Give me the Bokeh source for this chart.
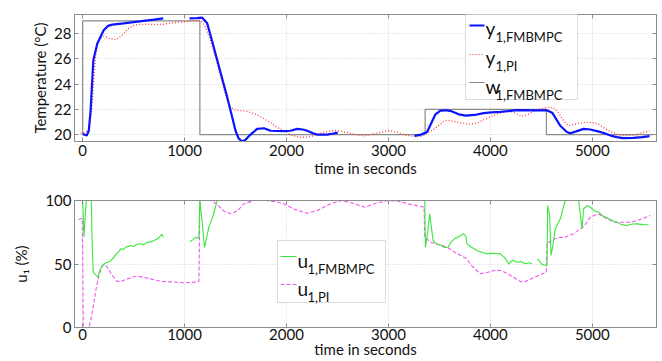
import math
from bokeh.plotting import figure
from bokeh.layouts import column
from bokeh.models import (Range1d, LinearAxis, FixedTicker, Label, BoxAnnotation, Arrow,
                          CustomLabelingPolicy)
from bokeh.embed import file_html
from bokeh.resources import INLINE

nan = float("nan")

# ---------------- data ----------------
x_ticks = [0, 1000, 2000, 3000, 4000, 5000]
temp_ticks = [20, 22, 24, 26, 28]
u_ticks = [0, 50, 100]

t_y_mpc = [0, 40, 60, 78, 105, 144, 206, 250, 291, 400, 500, 600, 700, 791, nan,
           1049, 1120, 1173, 1222, 1270, 1320, 1370, 1418, 1460, 1500, 1530, 1565, 1600, 1647,
           1712, 1780, 1843, 1974, 2039, 2105, 2160, 2203, 2260, 2301, 2399, 2460, 2503, nan,
           3255, 3320, 3379, 3420, 3461, 3510, 3560, 3618, 3690, 3760, 3846, 3934, 4010, 4100,
           4173, 4261, 4402, 4555, 4610, 4686, 4750, 4784, 4843, 4915, 4980, 5056, 5120, 5186,
           5242, 5300, 5405, 5490, 5562]
y_mpc = [20.05, 19.92, 20.3, 21.9, 25.9, 27.2, 28.25, 28.6, 28.7, 28.8, 28.9, 29.0, 29.1, 29.2, nan,
         29.2, 29.22, 29.25, 28.8, 27.4, 25.9, 24.4, 22.96, 21.6, 20.3, 19.7, 19.45, 19.6, 20.0,
         20.45, 20.5, 20.3, 20.27, 20.3, 20.45, 20.4, 20.3, 20.1, 20.0, 20.0, 20.08, 20.15, nan,
         19.9, 20.0, 20.2, 20.9, 21.6, 21.9, 21.92, 21.85, 21.6, 21.5, 21.55, 21.7, 21.75, 21.8,
         21.85, 21.93, 21.92, 21.92, 21.7, 20.7, 20.2, 20.1, 20.25, 20.45, 20.4, 20.25, 20.1, 19.9,
         19.8, 19.72, 19.73, 19.8, 19.87]

t_y_pi = [-20, 30, 62, 90, 110, 130, 144, 175, 209, 260, 324, 360, 405, 450, 503, 560, 634, 700,
          797, 895, 1026, 1157, 1200, 1260, 1320, 1370, 1418, 1450, 1484, 1550, 1614, 1700, 1778,
          1850, 1900, 1974, 2050, 2137, 2200, 2268, 2350, 2441, 2500, 2572, 2680, 2768, 2880, 2997,
          3080, 3160, 3250, 3314, 3380, 3422, 3477, 3552, 3608, 3683, 3760, 3814, 3880, 3944, 4010,
          4075, 4173, 4240, 4304, 4370, 4434, 4500, 4566, 4620, 4664, 4710, 4762, 4840, 4925, 5000,
          5056, 5120, 5186, 5250, 5317, 5400, 5448, 5562]
y_pi = [20.1, 20.2, 20.45, 22.0, 24.5, 26.4, 27.2, 27.6, 27.8, 27.6, 27.5, 27.7, 28.0, 28.4, 28.65,
        28.72, 28.73, 28.72, 28.73, 28.85, 28.95, 29.05, 28.6, 27.3, 25.6, 24.1, 22.7, 22.2, 21.96,
        21.9, 21.83, 21.6, 21.25, 20.9, 20.6, 20.3, 19.95, 19.78, 19.8, 19.9, 20.15, 20.3, 20.3,
        20.2, 20.0, 19.9, 20.1, 20.3, 20.2, 19.97, 19.85, 19.85, 20.1, 20.3, 20.6, 21.1, 21.1,
        20.97, 20.85, 20.8, 20.95, 21.2, 21.45, 21.65, 21.9, 21.7, 21.45, 21.6, 21.85, 22.05, 22.17,
        22.1, 21.77, 21.2, 20.7, 20.85, 20.97, 20.95, 20.85, 20.5, 20.2, 20.0, 19.9, 19.95, 20.05,
        20.3]

t_w = [0, 0, 1150, 1150, 3360, 3360, 4550, 4550, 5600]
w_mpc = [20, 29, 29, 20, 20, 22, 22, 20, 20]

t_u_mpc = [0, 13, 25, 36, 85, 95, 105, 127, 150, 165, 183, 200, 220, 242, 270, 307, 330, 350, 373,
           400, 430, 471, 500, 530, 569, 600, 630, 667, 700, 740, 765, 778, 791, nan,
           1052, 1080, 1108, 1130, 1141, 1150, 1170, 1196, 1238, 1280, 1320, 3356, 3363, 3385,
           3405, 3420, 3438, 3470, 3520, 3550, 3585, 3610, 3650, 3700, 3738, 3760, 3771, 3800,
           3869, 3920, 3967, 4020, 4098, 4140, 4180, 4220, 4262, 4300, 4343, 4380, 4409, nan,
           4464, 4507, 4556, 4562, 4582, 4595, 4615, 4637, 4686, 4735, 4866, 4899, 4915, 4950,
           4980, 5020, 5062, 5100, 5160, 5200, 5242, 5290, 5340, 5390, 5438, 5500, 5552]
u_mpc = [100, 71, 88, 100, 100, 60, 43.5, 41.5, 39.6, 44, 47.5, 49, 50.5, 51.4, 52, 55.4, 58, 59,
         62, 61.5, 63.5, 64.6, 63.8, 65.5, 65.9, 65, 67, 67.2, 68.5, 70, 72.4, 73.5, 71.1, nan,
         67.7, 69, 71.1, 70, 72.4, 100, 85, 63, 79, 88, 100, 100, 63.2, 75,
         89.5, 80, 68.5, 66, 64.6, 63, 63.2, 67, 69.8, 72, 73.8, 72, 65.9, 64,
         60.6, 59, 58, 58.5, 58, 55, 50.2, 53, 51.4, 52, 50.2, 51, 50.2, nan,
         54, 49.6, 48.8, 96, 88, 56.7, 65, 77.7, 85.6, 100, 100, 77.7, 93.5, 96,
         94.7, 92, 90.8, 88, 85.6, 84, 82.9, 81, 80.3, 81.5, 81.6, 81, 80.9]

t_u_pi = [-40, -5, 0, 6, 62, 85, 111, 135, 160, 193, 215, 242, 290, 340, 380, 438, 500, 536, 600,
          667, 730, 797, 900, 993, 1080, 1141, 1150, 1255, 1320, 1380, 1451, 1520, 1582, 1680,
          1800, 1900, 1974, 2080, 2203, 2300, 2431, 2539, 2650, 2768, 2880, 2997, 3100, 3193,
          3350, 3356, 3420, 3520, 3580, 3650, 3771, 3814, 3902, 3977, 4040, 4108, 4200, 4294,
          4340, 4434, 4549, 4556, 4600, 4686, 4728, 4817, 4925, 4980, 5056, 5144, 5219, 5307,
          5382, 5470, 5569]
u_pi = [85, 86, 60, 0, 0, 8, 20, 32, 41, 48.8, 49.5, 47.5, 41, 36.2, 36.5, 38.3, 40, 40.4, 39.5,
        38.3, 37, 36.2, 35.8, 35.2, 35.5, 36.2, 100, 100, 97, 92, 89.5, 92, 97.4, 100,
        100, 99, 97.4, 93, 90, 92, 97.4, 100, 98, 94.7, 98, 100, 99.5, 97.4,
        94.7, 71, 67, 64.6, 63, 59.3, 54, 48.8, 42.3, 43.5, 45, 44.9, 41, 36.2,
        36, 39.6, 43.5, 65.9, 69, 71, 71, 73.8, 80.3, 86.9, 89.5, 85.6, 82.9, 82.9,
        82.9, 85, 88.2]

# ---------------- styling ----------------
FONT = "Lato"
AX = "#8c8c8c"
GRID = "#d2d2d2"
BLUE = "#0a14ff"
RED = "#ff3b3b"
GRAY = "#8a8a8a"
GREEN = "#3ae63a"
MAGENTA = "#f055f0"
TXT = "#111111"

NO_LABELS = "for (const i of Array.from(indices)) { indices.unset(i) }\nreturn indices"


def style_axis(ax, ticks, show_labels=True):
    ax.ticker = FixedTicker(ticks=ticks)
    ax.axis_line_color = AX
    ax.major_tick_line_color = AX
    ax.major_tick_in = 4
    ax.major_tick_out = 0
    ax.minor_tick_line_color = None
    ax.major_label_text_font = FONT
    ax.major_label_text_color = TXT
    ax.major_label_text_font_size = "15px"
    ax.axis_label_text_font = FONT
    ax.axis_label_text_font_size = "15px"
    ax.axis_label_text_font_style = "normal"
    ax.axis_label_text_color = TXT
    if not show_labels:
        ax.major_label_text_font_size = "1px"
        ax.major_label_standoff = 0
        ax.major_label_policy = CustomLabelingPolicy(code=NO_LABELS)


def make_fig(height, top, bottom, yr, yticks, xl_standoff, xa_standoff):
    p = figure(width=662, height=height, x_range=Range1d(-80, 5630), y_range=Range1d(*yr),
               output_backend="svg", toolbar_location=None,
               min_border_left=74, min_border_right=6, min_border_top=top, min_border_bottom=bottom)
    p.outline_line_color = AX
    p.background_fill_color = "white"
    p.border_fill_color = "white"
    style_axis(p.xaxis[0], x_ticks)
    p.xaxis[0].major_label_standoff = xl_standoff
    p.xaxis[0].axis_label = "time in seconds"
    p.xaxis[0].axis_label_standoff = xa_standoff
    style_axis(p.yaxis[0], yticks)
    p.yaxis[0].major_label_standoff = 3
    top_ax = LinearAxis()
    style_axis(top_ax, x_ticks, show_labels=False)
    p.add_layout(top_ax, "above")
    right_ax = LinearAxis()
    style_axis(right_ax, yticks, show_labels=False)
    p.add_layout(right_ax, "right")
    p.xgrid.ticker = FixedTicker(ticks=x_ticks)
    p.ygrid.ticker = FixedTicker(ticks=yticks)
    for g in (p.xgrid[0], p.ygrid[0]):
        g.grid_line_color = GRID
        g.grid_line_dash = "1 2"
    return p


def legend_entry(p, x_line, y_line, x_main, y_main, main, sub, color, dash, width):
    p.add_layout(Arrow(end=None, x_start=x_line[0], y_start=y_line, x_end=x_line[1], y_end=y_line,
                       start_units="screen", end_units="screen", line_color=color,
                       line_width=width, line_dash=dash))
    p.add_layout(Label(x=x_main, y=y_main, x_units="screen", y_units="screen", text=main,
                       text_font=FONT, text_font_size="19px", text_baseline="alphabetic",
                       text_color=TXT))
    p.add_layout(Label(x=x_main + 10, y=y_main - 8, x_units="screen", y_units="screen", text=sub,
                       text_font=FONT, text_font_size="13px", text_baseline="alphabetic",
                       text_color=TXT))


# ---------------- top: temperatures ----------------
p1 = make_fig(180, 14, 39, (19.45, 29.5), temp_ticks, 3, 0)
p1.yaxis[0].axis_label = "Temperature (°C)"
p1.yaxis[0].axis_label_standoff = 2
p1.line(t_w, w_mpc, line_color=GRAY, line_width=1.2)
p1.line(t_y_pi, y_pi, line_color=RED, line_width=1.3, line_dash="1 2")
p1.line(t_y_mpc, y_mpc, line_color=BLUE, line_width=2.2)

p1.add_layout(BoxAnnotation(left=391, right=503, top=133, bottom=42,
                            left_units="screen", right_units="screen",
                            top_units="screen", bottom_units="screen",
                            fill_color="white", fill_alpha=1.0, line_color="#8a8a8a", line_width=1))
legend_entry(p1, (395, 410), 116, 411, 113, "y", "1,FMBMPC", BLUE, "solid", 2)
legend_entry(p1, (395, 410), 87, 411, 84, "y", "1,PI", RED, "1 2", 1.2)
legend_entry(p1, (395, 410), 59, 411, 55, "w", "1,FMBMPC", GRAY, "solid", 1.2)

# ---------------- bottom: control signals ----------------
p2 = make_fig(181, 20, 34, (0, 100), u_ticks, 1, -3)
p2.yaxis[0].axis_label = "u\u2081 (%)"
p2.yaxis[0].axis_label_standoff = 12
p2.line(t_u_pi, u_pi, line_color=MAGENTA, line_width=1.1, line_dash="4 2")
p2.line(t_u_mpc, u_mpc, line_color=GREEN, line_width=1.1)

p2.add_layout(BoxAnnotation(left=203, right=311, top=87, bottom=25,
                            left_units="screen", right_units="screen",
                            top_units="screen", bottom_units="screen",
                            fill_color="white", fill_alpha=1.0, line_color="#8a8a8a", line_width=1))
legend_entry(p2, (206, 222), 71, 223, 67, "u", "1,FMBMPC", GREEN, "solid", 1.1)
legend_entry(p2, (206, 222), 43, 223, 39, "u", "1,PI", MAGENTA, "4 2", 1.1)

layout = column(p1, p2, spacing=0)
open("out.html", "w").write(file_html(layout, INLINE))
